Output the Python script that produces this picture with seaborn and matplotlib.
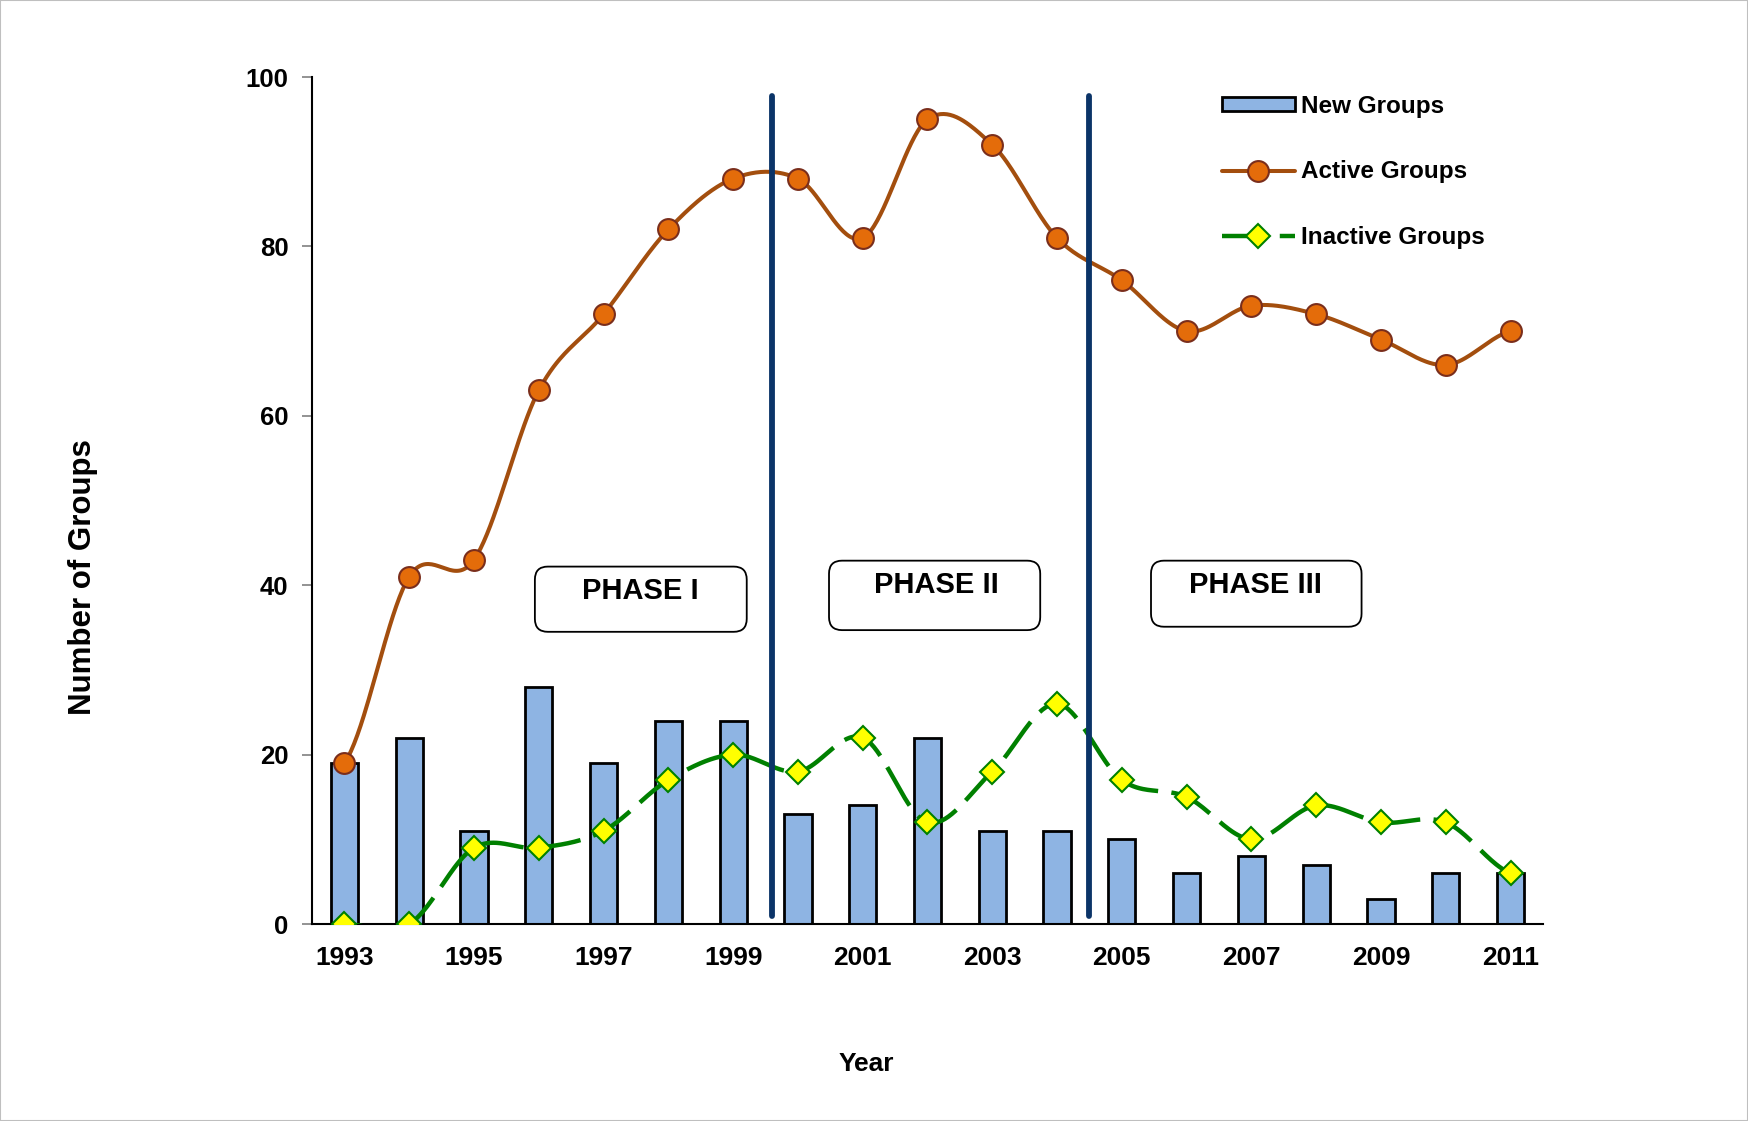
import numpy as np
import pandas as pd
import seaborn as sns
from matplotlib import pyplot as plt
from matplotlib.lines import Line2D
from matplotlib.patches import Patch, FancyBboxPatch, Rectangle

years = list(range(1993, 2012))
new_groups = [19, 22, 11, 28, 19, 24, 24, 13, 14, 22, 11, 11, 10, 6, 8, 7, 3, 6, 6]
active_groups = [19, 41, 43, 63, 72, 82, 88, 88, 81, 95, 92, 81, 76, 70, 73, 72, 69, 66, 70]
inactive_groups = [0, 0, 9, 9, 11, 17, 20, 18, 22, 12, 18, 26, 17, 15, 10, 14, 12, 12, 6]

phase_labels = ['PHASE I', 'PHASE II', 'PHASE III']


def smooth_curve(values, steps=40):
    # excel style smoothed line (catmull-rom through the points)
    pts = [values[0]] + list(values) + [values[-1]]
    xs, ys = [], []
    for i in range(len(values) - 1):
        p0, p1, p2, p3 = pts[i], pts[i + 1], pts[i + 2], pts[i + 3]
        t = np.linspace(0, 1, steps, endpoint=False)
        y = 0.5 * (2 * p1 + (-p0 + p2) * t + (2 * p0 - 5 * p1 + 4 * p2 - p3) * t ** 2
                   + (-p0 + 3 * p1 - 3 * p2 + p3) * t ** 3)
        xs.extend(i + t)
        ys.extend(y)
    xs.append(len(values) - 1)
    ys.append(values[-1])
    return np.array(xs), np.array(ys)


def plot_groups():
    sns.set_style('white')
    plt.rcParams['font.family'] = ['Liberation Sans', 'DejaVu Sans']
    plt.rcParams['font.weight'] = 'bold'
    plt.rcParams['text.color'] = 'black'
    plt.rcParams['axes.labelcolor'] = 'black'

    fig = plt.figure(figsize=(17.48, 11.21), dpi=100)
    ax = fig.add_axes([0.1785, 0.1757, 0.7042, 0.7556])

    df = pd.DataFrame({'Year': years, 'New': new_groups})
    sns.barplot(data=df, x='Year', y='New', ax=ax, color='#8EB4E3', saturation=1,
                width=0.42, edgecolor='black', linewidth=2)

    active_color = '#A34E0E'
    xs, ys = smooth_curve(active_groups)
    ax.plot(xs, ys, color=active_color, lw=2.9, zorder=3)
    ax.plot(range(len(years)), active_groups, ls='none', marker='o', ms=15,
            mfc='#E46C0A', mec='#7A2E1C', mew=1.5, zorder=4)

    dash = (10, 3)
    xs, ys = smooth_curve(inactive_groups)
    ax.plot(xs, ys, color='#008000', lw=3.2, dashes=dash, zorder=3)
    ax.plot(range(len(years)), inactive_groups, ls='none', marker='D', ms=12.5,
            mfc='#FFFF00', mec='#008000', mew=1.5, zorder=4)

    # phase separators
    for xv in [6.6, 11.5]:
        ax.plot([xv, xv], [1, 97.7], color='#0B3468', lw=4.2, zorder=5)

    # phase boxes
    boxes = [(2.94, 34.5, 3.27, 7.7, 4.57, 39.3),
             (7.48, 34.7, 3.26, 8.2, 9.13, 40.0),
             (12.45, 35.1, 3.25, 7.8, 14.06, 40.0)]
    for label, (bx, by, bw, bh, tx, ty) in zip(phase_labels, boxes):
        box = FancyBboxPatch((bx, by), bw, bh, boxstyle='round,pad=0,rounding_size=0.2',
                             mutation_aspect=7.66, facecolor='white', edgecolor='black',
                             lw=1.3, zorder=6)
        ax.add_patch(box)
        ax.text(tx, ty, label, ha='center', va='center', fontsize=21, fontweight='bold', zorder=7)

    ax.set_xlim(-0.5, len(years) - 0.5)
    ax.set_ylim(0, 100)
    ax.set_yticks(range(0, 101, 20))
    ax.set_xticks(range(0, len(years), 2))
    ax.set_xticklabels([str(y) for y in years[::2]])
    ax.set_xticks(np.arange(-0.5, len(years), 1), minor=True)
    ax.tick_params(axis='x', which='major', length=0, pad=16, labelsize=19, labelcolor='black')
    ax.tick_params(axis='x', which='minor', length=7, width=1.2, color='#808080', direction='out')
    ax.tick_params(axis='y', length=7, width=1.2, color='#808080', direction='out', pad=10,
                   labelsize=18.5, left=True, labelcolor='black')
    for lab in ax.get_xticklabels() + ax.get_yticklabels():
        lab.set_fontweight('bold')

    sns.despine(ax=ax)
    for side in ['left', 'bottom']:
        ax.spines[side].set_color('black')
        ax.spines[side].set_linewidth(1.5)

    ax.set_xlabel('Year', fontsize=19, fontweight='bold')
    ax.set_ylabel('Number of Groups', fontsize=22.5, fontweight='bold')
    ax.xaxis.set_label_coords(0.45, -0.151)
    ax.yaxis.set_label_coords(-0.174, 0.41)

    handles = [
        Patch(facecolor='#8EB4E3', edgecolor='black', lw=2),
        Line2D([], [], color=active_color, lw=2.9, marker='o', ms=15,
               mfc='#E46C0A', mec='#7A2E1C', mew=1.5),
        Line2D([], [], color='#008000', lw=3.2, dashes=dash, marker='D', ms=12,
               mfc='#FFFF00', mec='#008000', mew=1.5),
    ]
    fig.legend(handles, ['New Groups', 'Active Groups', 'Inactive Groups'],
               loc='upper left', bbox_to_anchor=(1222 / 1748, 1 - 95 / 1121),
               frameon=False, prop={'weight': 'bold', 'size': 17.5},
               handlelength=3.0, handletextpad=0.25, labelspacing=1.74,
               borderpad=0, borderaxespad=0, handleheight=0.5)

    fig.patches.append(Rectangle((0, 0), 1, 1, transform=fig.transFigure, fill=False,
                                 edgecolor='#BFBFBF', lw=1.5))

    plt.savefig('out.png', dpi=100)


if __name__ == '__main__':
    plot_groups()
